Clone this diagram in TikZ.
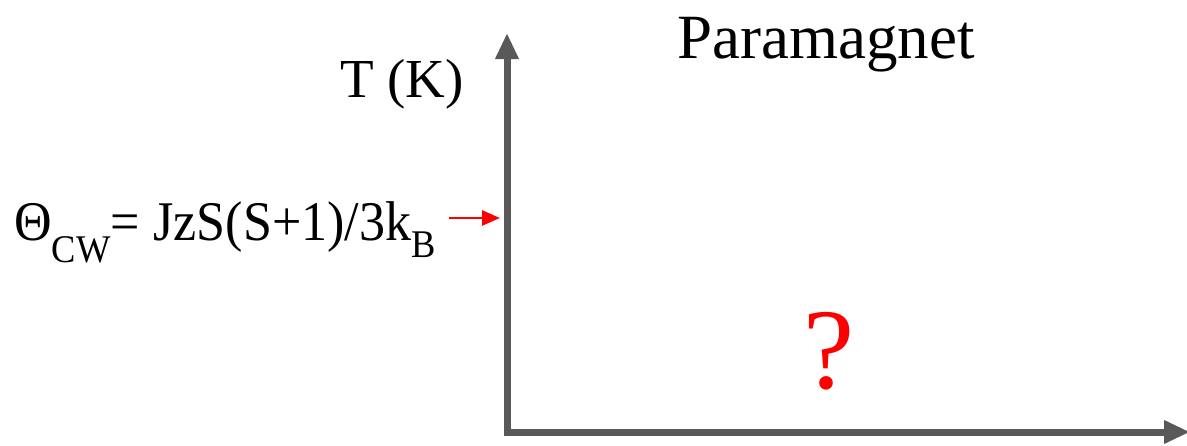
\documentclass[tikz,border=0pt]{standalone}
\usepackage{fontspec}
\setmainfont{Liberation Serif}
\usetikzlibrary{arrows.meta}
\definecolor{axisgray}{HTML}{595959}
\begin{document}
\begin{tikzpicture}[x=1pt,y=-1pt,
  axis/.style={draw=axisgray,line width=7pt,-{Triangle[length=26pt,width=22pt]}},
  lbl/.style={inner sep=0pt,anchor=base west}]
\useasboundingbox (0,0) rectangle (1187,445);
\coordinate (o) at (507,432);
\coordinate (ytip) at (507,33);
\coordinate (xtip) at (1190,432);
\draw[axis] (o) -- (ytip);
\draw[axis] ([xshift=-3.5pt]o) -- (xtip);
\node[lbl] (para) at (677,58) {\fontsize{63}{70}\selectfont Paramagnet};
\node[lbl] (tk) at (340,97) {\fontsize{55}{60}\selectfont T (K)};
\node[lbl] (cw) at (14,240) {\scalebox{0.93}[1]{\fontsize{56}{60}\selectfont Θ\raisebox{-0.1em}{\textsubscript{CW}}= JzS(S+1)/3k\textsubscript{B}}};
\coordinate (ya) at (500,218);
\draw[red,line width=2.5pt,-{Triangle[length=18pt,width=15pt]}] (449,218) -- (ya);
\node[lbl,text=red] (q) at (803,388) {\fontsize{115}{120}\selectfont ?};
\end{tikzpicture}
\end{document}
